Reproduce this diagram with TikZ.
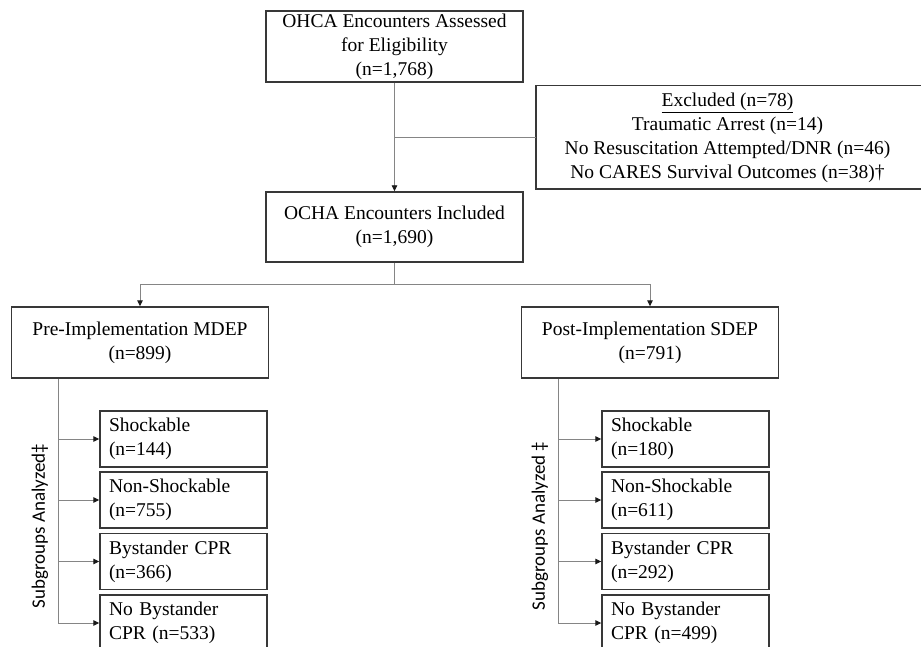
\documentclass[tikz,border=0pt]{standalone}
\usepackage{fontspec}
\setmainfont{Liberation Serif}
\newfontfamily\labelFont{Carlito}
\usetikzlibrary{arrows.meta}
\newcommand{\boxFont}[0]{\fontsize{19.5}{24}\selectfont}
\newcommand{\sideFont}[0]{\labelFont\fontsize{19}{23}\selectfont}

\begin{document}
\begin{tikzpicture}[x=1pt, y=-1pt, >={Triangle[length=6pt,width=5.5pt,color=black!90]}]
  \tikzset{every node/.style={font=\boxFont},
    boxline/.style={draw=black!78, line width=1.4pt},
    flowbox/.style={boxline, align=center, minimum width=257pt, inner sep=0pt},
    subbox/.style={boxline, align=left, text width=149pt, inner xsep=9pt, inner ysep=0pt, minimum height=56pt},
    link/.style={draw=black!48, line width=0.9pt}}
  \clip (0,0) rectangle (921,647);
  \node[flowbox, minimum height=71pt] (assess) at (394.5,46.5) {OHCA Encounters Assessed\\for Eligibility\\(n=1,768)};
  \node[align=center, minimum width=383pt, minimum height=103pt, inner sep=0pt] (excl) at (727.5,137.5)
    {\underline{Excluded (n=78)}\\Traumatic Arrest (n=14)\\No Resuscitation Attempted/DNR (n=46)\\No CARES Survival Outcomes (n=38)\dag};
  \draw[boxline] (excl.north west) rectangle ([xshift=30pt]excl.south east);
  \node[flowbox, minimum height=70pt] (incl) at (394.5,227) {OCHA Encounters Included\\(n=1,690)};
  \node[flowbox, minimum height=71pt] (pre) at (140,342.5) {Pre-Implementation MDEP\\(n=899)};
  \node[flowbox, minimum height=71pt] (post) at (650,342.5) {Post-Implementation SDEP\\(n=791)};
  \node[subbox] (pre-1) at (183.5,439) {Shockable\\(n=144)};
  \node[subbox] (pre-2) at (183.5,500) {Non-Shockable\\(n=755)};
  \node[subbox] (pre-3) at (183.5,561.5) {Bystander CPR\\(n=366)};
  \node[subbox] (pre-4) at (183.5,623) {No Bystander\\CPR (n=533)};
  \node[subbox] (post-1) at (685.5,439) {Shockable\\(n=180)};
  \node[subbox] (post-2) at (685.5,500) {Non-Shockable\\(n=611)};
  \node[subbox] (post-3) at (685.5,561.5) {Bystander CPR\\(n=292)};
  \node[subbox] (post-4) at (685.5,623) {No Bystander\\CPR (n=499)};
  \node[rotate=90, font=\sideFont] (pre-label) at (40,526) {Subgroups Analyzed‡};
  \node[rotate=90, font=\sideFont] (post-label) at (540,526) {Subgroups Analyzed ‡};
  \coordinate (split) at (394.5,284);
  \coordinate (pre-spine) at (58,0);
  \coordinate (post-spine) at (558,0);
  \draw[link,->] (assess.south) -- (incl.north);
  \draw[link] (assess.south |- excl.west) -- (excl.west);
  \draw[link] (incl.south) -- (split);
  \draw[link,->] (split) -| (pre.north);
  \draw[link,->] (split) -| (post.north);
  \draw[link,->] (pre.south -| pre-spine) |- (pre-4.west);
  \draw[link,->] (pre-1.west -| pre-spine) -- (pre-1.west);
  \draw[link,->] (pre-2.west -| pre-spine) -- (pre-2.west);
  \draw[link,->] (pre-3.west -| pre-spine) -- (pre-3.west);
  \draw[link,->] (post.south -| post-spine) |- (post-4.west);
  \draw[link,->] (post-1.west -| post-spine) -- (post-1.west);
  \draw[link,->] (post-2.west -| post-spine) -- (post-2.west);
  \draw[link,->] (post-3.west -| post-spine) -- (post-3.west);
\end{tikzpicture}
\end{document}
